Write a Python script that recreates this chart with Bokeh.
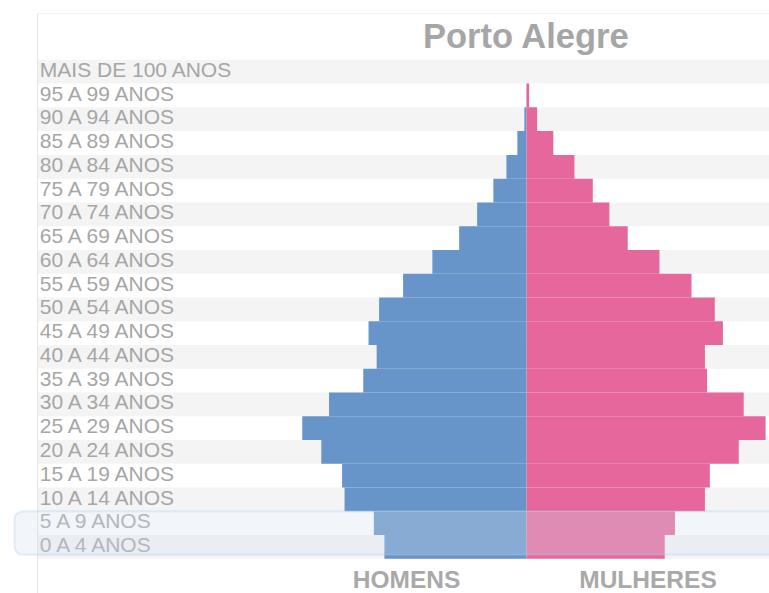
from bokeh.plotting import figure
from bokeh.models import Range1d, BoxAnnotation, ColumnDataSource
from bokeh.core.properties import value
from bokeh.embed import file_html
from bokeh.resources import INLINE

# ---- data (population, thousands) : bottom (youngest) to top (oldest) ----
age_groups = ["0 A 4 ANOS", "5 A 9 ANOS", "10 A 14 ANOS", "15 A 19 ANOS",
              "20 A 24 ANOS", "25 A 29 ANOS", "30 A 34 ANOS", "35 A 39 ANOS",
              "40 A 44 ANOS", "45 A 49 ANOS", "50 A 54 ANOS", "55 A 59 ANOS",
              "60 A 64 ANOS", "65 A 69 ANOS", "70 A 74 ANOS", "75 A 79 ANOS",
              "80 A 84 ANOS", "85 A 89 ANOS", "90 A 94 ANOS", "95 A 99 ANOS",
              "MAIS DE 100 ANOS"]
men = [40.3, 43.3, 51.6, 52.3, 58.2, 63.6, 56.0, 46.3, 42.5, 44.8, 41.8,
       35.0, 26.7, 19.1, 14.0, 9.4, 5.7, 2.6, 0.6, 0.05, 0.0]
women = [39.2, 42.1, 50.6, 52.0, 60.2, 67.8, 61.6, 51.2, 50.6, 55.7, 53.4,
         46.8, 37.7, 28.7, 23.5, 18.8, 13.6, 7.6, 3.0, 0.75, 0.0]
title_text = "Porto Alegre"
side_labels = ["HOMENS", "MULHERES"]
highlight_groups = ["0 A 4 ANOS", "5 A 9 ANOS"]

# ---- layout (pixels) ----
W, H = 769, 593
CX = 526.0      # pixel of zero
K = 3.526       # pixels per thousand
ROW = 23.76     # pixels per age group
BOTTOM = 558.3  # pixel of the bottom of the youngest group

x_start = -CX / K
x_end = (W - CX) / K
y_end = BOTTOM / ROW
y_start = -(H - BOTTOM) / ROW


def px_x(px):
    return x_start + px / K


def px_y(py):
    return (BOTTOM - py) / ROW


BLUE = "#6795c9"
PINK = "#e5679b"
GRAY_TXT = "#a6a6a6"
FONT = value("Liberation Sans")

p = figure(width=W, height=H, x_range=Range1d(x_start, x_end),
           y_range=Range1d(y_start, y_end), output_backend="svg",
           toolbar_location=None, min_border=0,
           x_axis_location=None, y_axis_location=None)
p.grid.visible = False
p.outline_line_color = None
p.background_fill_color = "white"

idx = list(range(len(age_groups)))

# alternating row stripes
stripe_rows = [i for i in idx if i % 2 == 0]
p.quad(left=px_x(37), right=x_end + 5,
       bottom=stripe_rows, top=[i + 1 for i in stripe_rows],
       fill_color="#f4f4f4", line_color=None)

# frame lines
p.segment(x0=[px_x(37)], y0=[px_y(13)], x1=[px_x(37)], y1=[y_start],
          line_color="#e4e4e4", line_width=1)
p.segment(x0=[px_x(37)], y0=[px_y(13)], x1=[x_end + 5], y1=[px_y(13)],
          line_color="#f3f3f3", line_width=1)

src = ColumnDataSource(dict(
    bottom=idx, top=[i + 1 for i in idx],
    men_left=[-m for m in men], zero=[0] * len(idx), women=women,
    label=age_groups, label_y=[i + 0.6 for i in idx],
))

p.quad(left="men_left", right="zero", bottom="bottom", top="top",
       source=src, fill_color=BLUE, line_color=None)
p.quad(left="zero", right="women", bottom="bottom", top="top",
       source=src, fill_color=PINK, line_color=None)

# age group labels
p.text(x=px_x(39.3), y="label_y", text="label", source=src,
       text_font=FONT, text_font_size="21px", text_color=GRAY_TXT,
       text_align="left", text_baseline="middle")

# title
p.text(x=[0.0], y=[px_y(35)], text=[title_text], text_font=FONT,
       text_font_size="34.5px", text_font_style="bold", text_color="#a6a6a6",
       text_align="center", text_baseline="middle")

# side labels
p.text(x=[px_x(406), px_x(647.5)], y=[px_y(579)] * 2, text=side_labels,
       text_font=FONT, text_font_size="24.5px", text_font_style="bold",
       text_color="#a9a9a9", text_align="center", text_baseline="middle")

# highlight box around the youngest groups
hi = [age_groups.index(g) for g in highlight_groups]
box = BoxAnnotation(left=px_x(14), right=x_end + 20,
                    bottom=px_y(554.3), top=max(hi) + 1,
                    border_radius=8, fill_color="#d3dfef", fill_alpha=0.3,
                    line_color="#a9cdee", line_width=2)
p.add_layout(box)

open("out.html", "w").write(file_html(p, INLINE))
